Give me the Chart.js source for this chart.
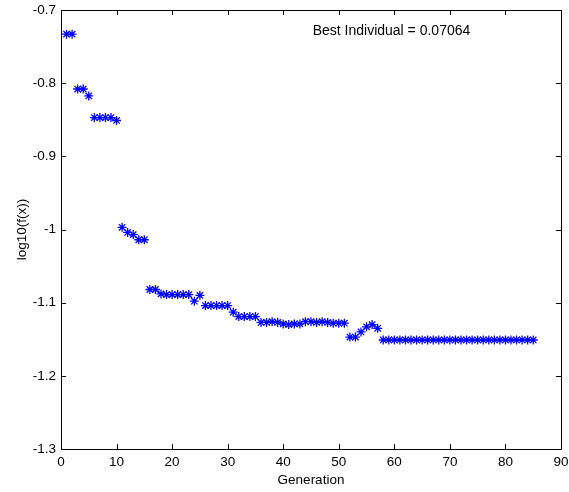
<!DOCTYPE html>
<html>
<head>
<meta charset="utf-8">
<script src="https://cdn.jsdelivr.net/npm/chart.js@4.4.1/dist/chart.umd.min.js"></script>
<style>
  html, body { margin: 0; padding: 0; background: #fff; }
  #wrap { width: 569px; height: 492px; }
</style>
</head>
<body>
<div id="wrap"><canvas id="ga"></canvas></div>
<script>
// generation number and log10 of the best fitness found so far
const generations = [
  1, 2, 3, 4, 5, 6, 7, 8, 9, 10,
  11, 12, 13, 14, 15, 16, 17, 18, 19, 20,
  21, 22, 23, 24, 25, 26, 27, 28, 29, 30,
  31, 32, 33, 34, 35, 36, 37, 38, 39, 40,
  41, 42, 43, 44, 45, 46, 47, 48, 49, 50,
  51, 52, 53, 54, 55, 56, 57, 58, 59, 60,
  61, 62, 63, 64, 65, 66, 67, 68, 69, 70,
  71, 72, 73, 74, 75, 76, 77, 78, 79, 80,
  81, 82, 83, 84, 85
]
const bestLog = [
  -0.733, -0.733, -0.808, -0.808, -0.8175, -0.847, -0.847, -0.847, -0.847, -0.851,
  -0.997, -1.004, -1.007, -1.014, -1.014, -1.082, -1.082, -1.088, -1.089, -1.089,
  -1.089, -1.089, -1.089, -1.098, -1.090, -1.104, -1.104, -1.104, -1.104, -1.104,
  -1.113, -1.119, -1.119, -1.119, -1.119, -1.127, -1.127, -1.126, -1.127, -1.129,
  -1.130, -1.129, -1.129, -1.126, -1.126, -1.127, -1.126, -1.127, -1.128, -1.128,
  -1.128, -1.147, -1.147, -1.140, -1.133, -1.130, -1.135, -1.151, -1.151, -1.151,
  -1.151, -1.151, -1.151, -1.151, -1.151, -1.151, -1.151, -1.151, -1.151, -1.151,
  -1.151, -1.151, -1.151, -1.151, -1.151, -1.151, -1.151, -1.151, -1.151, -1.151,
  -1.151, -1.151, -1.151, -1.151, -1.151
]
const xTicks = [0, 10, 20, 30, 40, 50, 60, 70, 80, 90]
const yTicks = [-1.3, -1.2, -1.1, -1.0, -0.9, -0.8, -0.7]
const yTickLabels = ['-1.3', '-1.2', '-1.1', '-1', '-0.9', '-0.8', '-0.7']
const bestText = 'Best Individual = 0.07064'

const FONT = 'Liberation Sans, Arial, sans-serif'

// matlab style box: frame on all four sides with inward ticks, plus the text note
const boxPlugin = {
  id: 'box',
  afterDatasetsDraw(chart) {
    const { ctx, chartArea: a, scales } = chart
    const xs = scales.x, ys = scales.y
    const tl = 5
    ctx.save()
    ctx.strokeStyle = '#000'
    ctx.lineWidth = 1
    ctx.beginPath()
    ctx.rect(Math.round(a.left) + 0.5, Math.round(a.top) + 0.5,
      Math.round(a.right - a.left), Math.round(a.bottom - a.top))
    ctx.stroke()
    ctx.beginPath()
    xTicks.forEach(v => {
      const px = Math.round(xs.getPixelForValue(v)) + 0.5
      ctx.moveTo(px, a.bottom); ctx.lineTo(px, a.bottom - tl)
      ctx.moveTo(px, a.top); ctx.lineTo(px, a.top + tl)
    })
    yTicks.forEach(v => {
      const py = Math.round(ys.getPixelForValue(v)) + 0.5
      ctx.moveTo(a.left, py); ctx.lineTo(a.left + tl, py)
      ctx.moveTo(a.right, py); ctx.lineTo(a.right - tl, py)
    })
    ctx.stroke()

    ctx.fillStyle = '#000'
    ctx.font = '14px ' + FONT
    ctx.textBaseline = 'middle'
    ctx.textAlign = 'left'
    ctx.fillText(bestText, xs.getPixelForValue(45.3), ys.getPixelForValue(-0.7294))
    ctx.restore()
  }
}

// keep the plot box fixed; no extra room for half-width edge labels
const noEdgePad = s => {
  s.paddingLeft = 0; s.paddingRight = 0
  s.paddingTop = 0; s.paddingBottom = 0
}

new Chart(document.getElementById('ga'), {
  type: 'scatter',
  data: {
    datasets: [{
      data: generations.map((g, i) => ({ x: g, y: bestLog[i] })),
      showLine: false,
      pointStyle: 'star',
      pointRadius: 4.5,
      pointBorderWidth: 1.3,
      pointBorderColor: 'rgb(0,0,255)',
      pointBackgroundColor: 'rgb(0,0,255)'
    }]
  },
  options: {
    responsive: true,
    maintainAspectRatio: false,
    animation: false,
    layout: { padding: { top: 10, right: 8, left: 0, bottom: 0 } },
    plugins: { legend: { display: false }, tooltip: { enabled: false } },
    scales: {
      x: {
        type: 'linear',
        min: 0, max: 90,
        afterBuildTicks: s => { s.ticks = xTicks.map(v => ({ value: v })) },
        afterFit: s => { s.height = 43; noEdgePad(s) },
        grid: { display: false, drawTicks: false },
        border: { display: false },
        ticks: { color: '#000', padding: 5, font: { family: FONT, size: 13.5 } },
        title: {
          display: true, text: 'Generation', color: '#000',
          font: { family: FONT, size: 13.5 }, padding: { top: 0, bottom: 4 }
        }
      },
      y: {
        type: 'linear',
        min: -1.3, max: -0.7,
        afterBuildTicks: s => { s.ticks = yTicks.map(v => ({ value: v })) },
        afterFit: s => { s.width = 61; noEdgePad(s) },
        grid: { display: false, drawTicks: false },
        border: { display: false },
        ticks: {
          color: '#000', padding: 5, font: { family: FONT, size: 13.5 },
          callback: (v, i) => yTickLabels[i]
        },
        title: {
          display: true, text: 'log10(f(x))', color: '#000',
          font: { family: FONT, size: 13.5 }, padding: { top: 14, bottom: 0 }
        }
      }
    }
  },
  plugins: [boxPlugin]
})
</script>
</body>
</html>
